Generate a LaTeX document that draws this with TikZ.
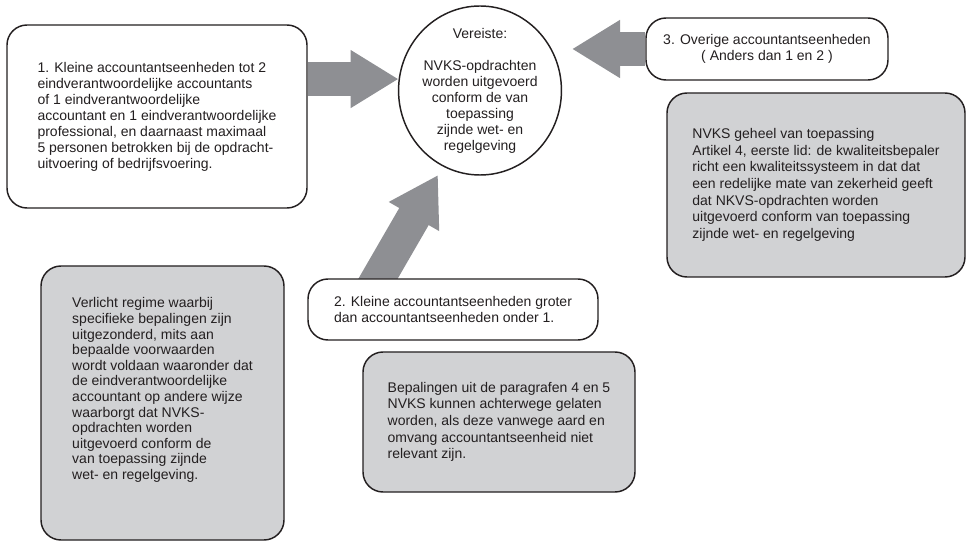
\documentclass[tikz,border=0pt]{standalone}
\usepackage{fontspec}
\setmainfont{Liberation Sans}
\usetikzlibrary{arrows.meta,shapes.geometric,calc}

\definecolor{arrowgray}{RGB}{142,143,147}
\definecolor{boxgray}{RGB}{209,210,212}
\definecolor{inkgray}{RGB}{35,31,32}

\pgfdeclarelayer{bg}
\pgfsetlayers{bg,main}

\tikzset{every picture/.style={line width=0.75pt}}
\tikzset{
  whitebox/.style={draw=inkgray, line width=1.1pt, fill=white, rounded corners=15pt, align=left, text=inkgray, font=\fontsize{10.5}{12}\selectfont, inner sep=0pt},
  greybox/.style={whitebox, fill=boxgray, font=\fontsize{10.5}{12.5}\selectfont},
  bigarrow/.style={draw=arrowgray, line width=25.5pt, -{Triangle[length=36pt,width=41pt]}}
}

\begin{document}
\begin{tikzpicture}[x=0.75pt,y=0.75pt,yscale=-1,xscale=1]
\useasboundingbox (0,0) rectangle (967,541);

%Shape: Rounded Rect [id:box1] 
\node (box1) [whitebox, minimum width=225pt, minimum height=137.25pt] at (157,116.5) {1. Kleine accountantseenheden tot 2\\ eindverantwoordelijke accountants\\ of 1 eindverantwoordelijke\\ accountant en 1 eindverantwoordelijke\\ professional, en daarnaast maximaal\\ 5 personen betrokken bij de opdracht-\\ uitvoering of bedrijfsvoering.};
%Shape: Ellipse [id:circ] 
\node (circ) [whitebox, ellipse, rounded corners=0pt, align=center, inner xsep=0pt, inner ysep=-9pt, minimum width=118.5pt, minimum height=126.75pt] at (480,90.5) {Vereiste:\\[12pt] NVKS-opdrachten\\ worden uitgevoerd\\ conform de van\\ toepassing\\ zijnde wet- en\\ regelgeving};
%Shape: Rounded Rect [id:box3] 
\node (box3) [whitebox, align=center, minimum width=181.5pt, minimum height=46.5pt] at (767,49) {3. Overige accountantseenheden\\ ( Anders dan 1 en 2 )};
%Shape: Rounded Rect [id:kwal] 
\node (kwal) [greybox, minimum width=223.5pt, minimum height=138pt] at (816,185) {NVKS geheel van toepassing\\ Artikel 4, eerste lid: de kwaliteitsbepaler\\ richt een kwaliteitssysteem in dat dat\\ een redelijke mate van zekerheid geeft\\ dat NKVS-opdrachten worden\\ uitgevoerd conform van toepassing\\ zijnde wet- en regelgeving};
%Shape: Rounded Rect [id:box2] 
\node (box2) [whitebox, minimum width=217.5pt, minimum height=45.75pt] at (453,309.5) {2. Kleine accountantseenheden groter\\ dan accountantseenheden onder 1.};
%Shape: Rounded Rect [id:bepal] 
\node (bepal) [greybox, minimum width=204pt, minimum height=105pt] at (499,422) {Bepalingen uit de paragrafen 4 en 5\\ NVKS kunnen achterwege gelaten\\ worden, als deze vanwege aard en\\ omvang accountantseenheid niet\\ relevant zijn.};
%Shape: Rounded Rect [id:verl] 
\node (verl) [greybox, font=\fontsize{10.5}{11.7}\selectfont, minimum width=182.25pt, minimum height=205.5pt] at (162.5,403) {Verlicht regime waarbij\\ specifieke bepalingen zijn\\ uitgezonderd, mits aan\\ bepaalde voorwaarden\\ wordt voldaan waaronder dat\\ de eindverantwoordelijke\\ accountant op andere wijze\\ waarborgt dat NVKS-\\ opdrachten worden\\ uitgevoerd conform de\\ van toepassing zijnde\\ wet- en regelgeving.\\[10pt]};

\coordinate (tip2) at (438,175);
\coordinate (tip3) at (572,49);

\begin{pgfonlayer}{bg}
%Straight Lines [id:arr1] 
\draw [bigarrow] (box1.east |- circ.172) -- (circ.172);
%Straight Lines [id:arr2] 
\draw [bigarrow] ($(tip2)+(-70,121)$) -- (tip2);
%Straight Lines [id:arr3] 
\draw [bigarrow] (box3.west) -- (tip3);
\end{pgfonlayer}

\end{tikzpicture}
\end{document}
